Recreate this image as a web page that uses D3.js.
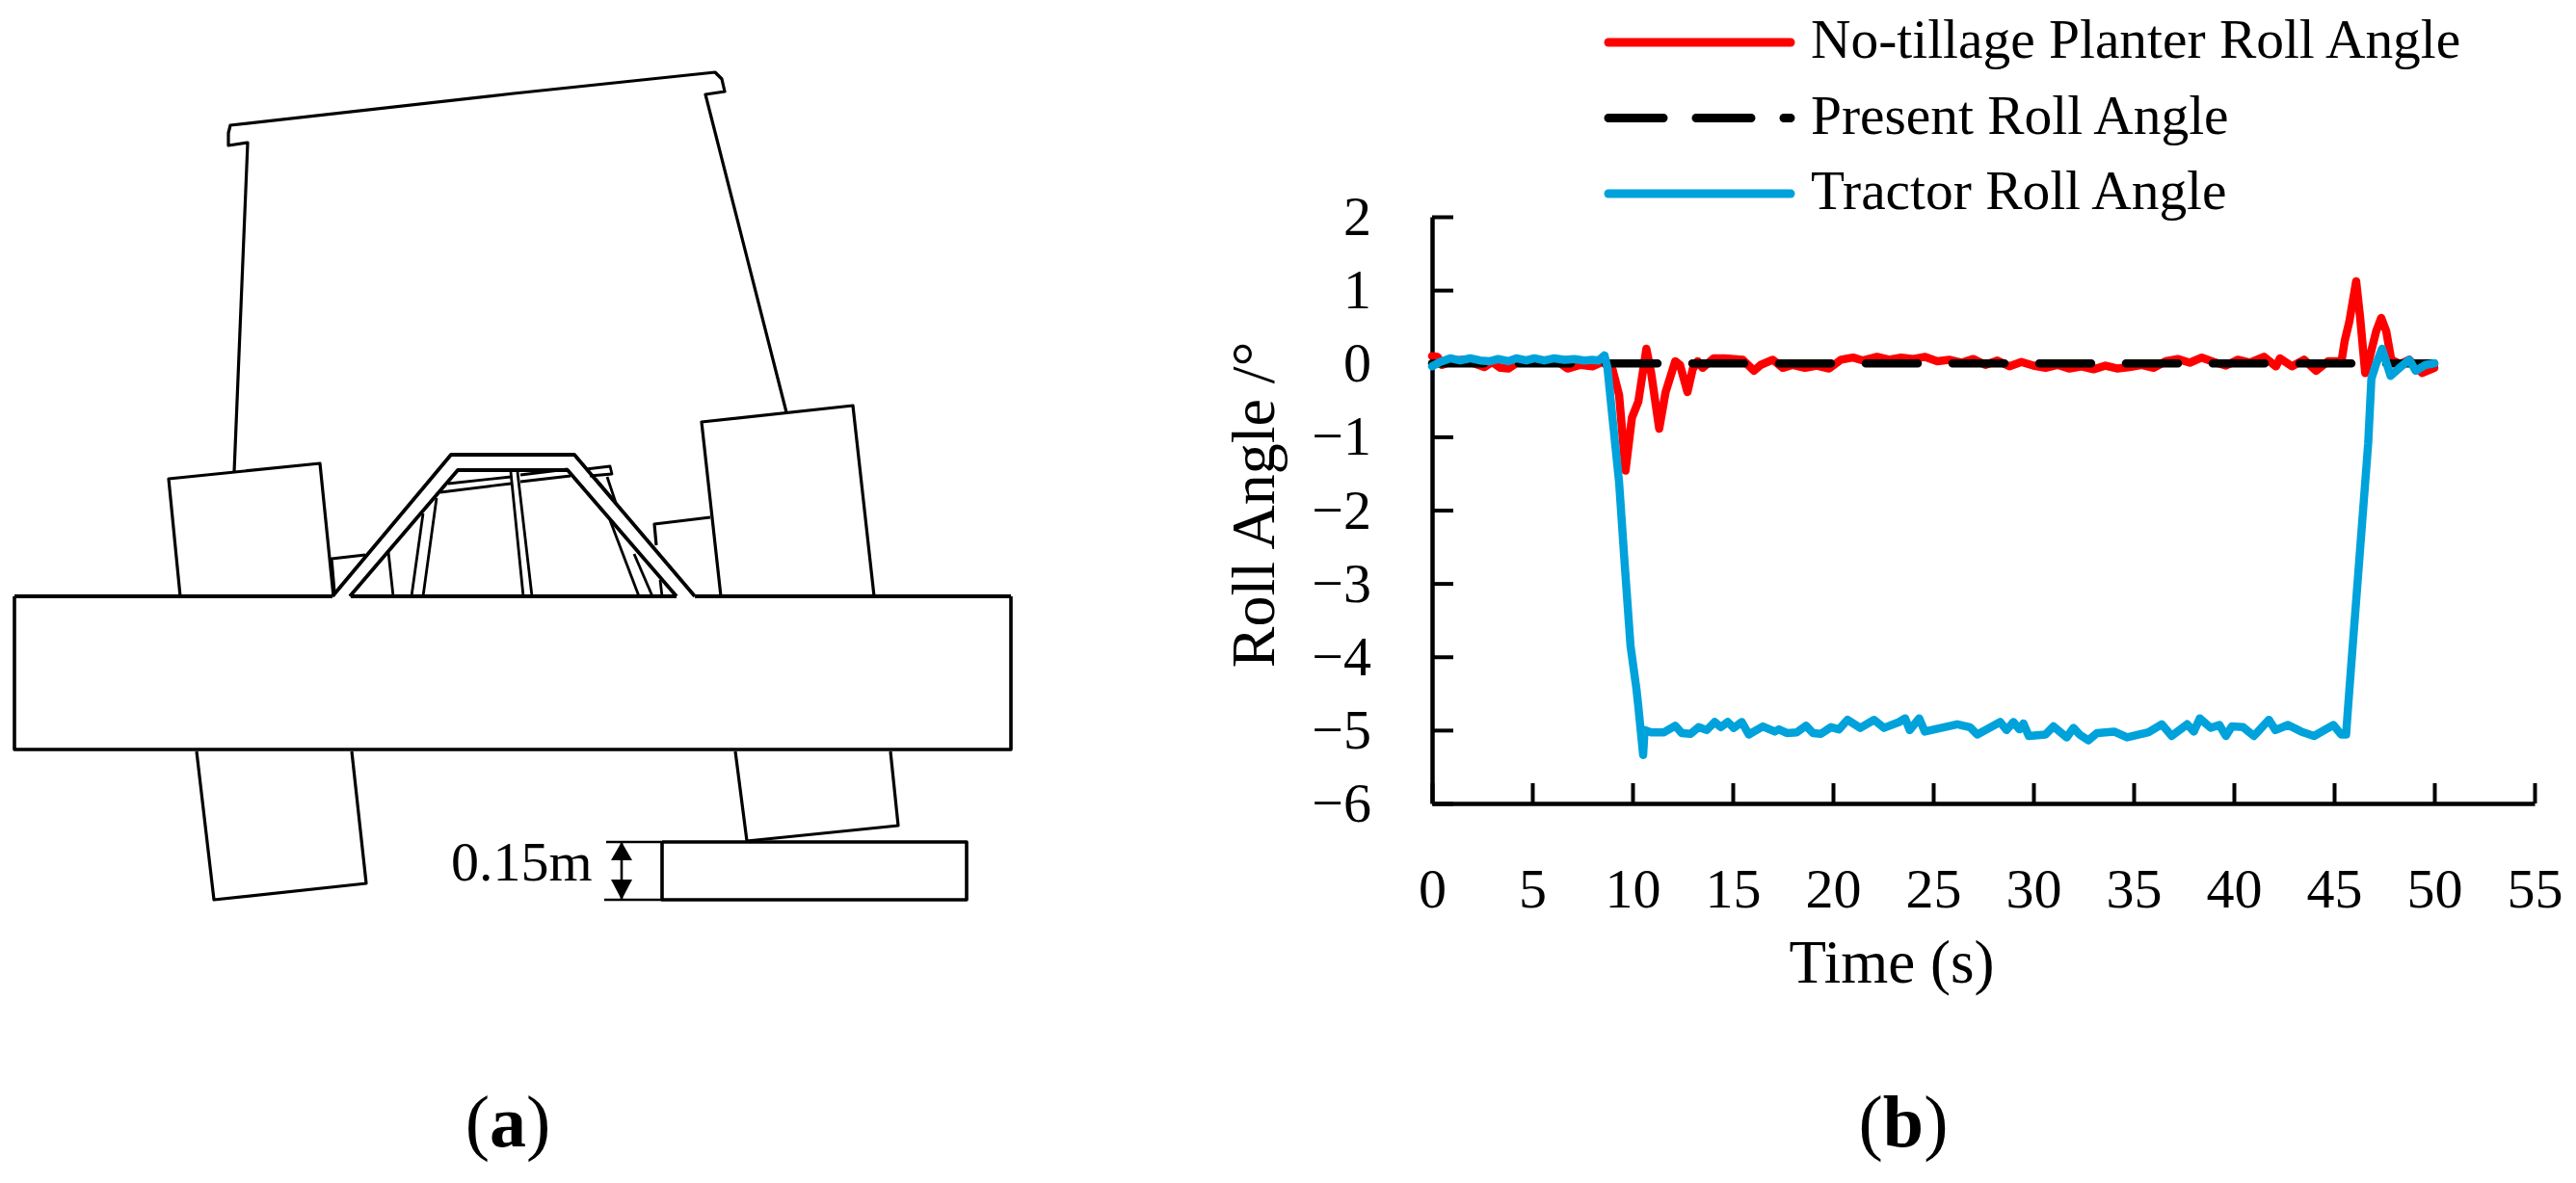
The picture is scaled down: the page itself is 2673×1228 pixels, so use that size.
<!DOCTYPE html>
<html>
<head>
<meta charset="utf-8">
<script src="https://cdn.jsdelivr.net/npm/d3@7"></script>
<style>
  html, body { margin: 0; padding: 0; background: #fff; overflow: hidden; }
  text { font-family: "Liberation Serif", serif; fill: #000; }
</style>
</head>
<body>
<div id="canvas" style="width:2673px;height:1228px"></div>
<script>
// chart (b) data
var xTicks = [0,5,10,15,20,25,30,35,40,45,50,55];
var yTicks = [2,1,0,-1,-2,-3,-4,-5,-6];

var presentT = [0,50];
var presentV = [0,0];

var planterT = [0,.27,.5,1,1.5,2,2.6,3,3.4,3.8,4.3,5,5.6,6.2,6.76,7.4,8,8.5,9,9.33,9.65,9.97,10.29,10.69,10.93,11.33,11.65,12.13,12.37,12.74,13,13.25,13.5,14.05,14.6,15.5,16.06,16.4,17,17.5,18,18.6,19.2,19.8,20.4,21,21.5,22.2,22.8,23.4,24,24.6,25.2,25.8,26.4,27,27.6,28.2,28.8,29.4,30,30.6,31.2,31.8,32.4,33,33.6,34.2,34.8,35.4,36,36.6,37.2,37.8,38.4,39,39.6,40.2,40.8,41.5,42.1,42.3,42.9,43.5,44.1,44.7,45.37,45.53,45.76,46.1,46.3,46.55,46.7,47.1,47.35,47.6,47.85,48.3,48.75,49.4,50];
var planterV = [.1,.09,-.02,.03,.05,.01,-.05,.02,-.06,-.07,.02,.05,.01,.04,-.07,-.02,-.04,.02,-.08,-.43,-1.46,-.74,-.52,.2,-.13,-.89,-.39,.03,-.02,-.39,-.08,.03,-.06,.07,.07,.05,-.1,-.02,.05,-.06,-.02,-.06,-.03,-.07,.05,.08,.04,.09,.05,.08,.06,.09,.03,.05,.01,.06,-.02,.04,-.04,.02,-.03,-.06,-.02,-.07,-.04,-.08,-.03,-.07,-.05,-.02,-.06,.03,.06,.01,.08,.02,-.03,.05,.01,.09,-.04,.07,-.04,.05,-.1,.03,.03,.31,.57,1.12,.62,-.13,0,.44,.62,.44,.05,-.01,.05,-.13,-.06];

var tractorT = [0,.4,.9,1.4,1.9,2.4,2.9,3.3,3.8,4.2,4.7,5.1,5.6,6.1,6.6,7.1,7.6,8,8.3,8.6,8.75,9,9.33,9.6,9.9,10.2,10.29,10.53,10.6,10.93,11.57,12.13,12.45,12.9,13.3,13.7,14.1,14.4,14.75,15.05,15.45,15.8,16.5,17.1,17.3,17.7,18.2,18.65,19,19.4,19.9,20.3,20.72,21.36,22.05,22.54,23.3,23.6,23.83,24.3,24.58,25.55,26.2,26.83,27.2,28.34,28.66,29,29.3,29.5,29.77,30.6,31,31.66,32,32.3,32.74,33.17,34.02,34.67,35.74,36.4,36.9,37.67,38,38.3,38.85,39.28,39.6,39.9,40.46,41,41.75,42.07,42.7,43.36,44,44.97,45.35,45.6,45.65,45.83,46.25,46.7,46.86,47.08,47.39,47.82,48.27,48.75,49.07,49.55,50];
var tractorV = [-.04,.02,.07,.04,.07,.04,.03,.06,.03,.07,.04,.07,.04,.07,.05,.06,.04,.05,.04,.11,-.06,-.74,-1.62,-2.7,-3.85,-4.45,-4.68,-5.34,-5,-5.03,-5.03,-4.94,-5.04,-5.05,-4.96,-5,-4.89,-4.96,-4.89,-4.97,-4.89,-5.06,-4.95,-5.02,-4.99,-5.04,-5.03,-4.94,-5.04,-5.05,-4.96,-4.99,-4.86,-4.97,-4.86,-4.97,-4.89,-4.84,-5,-4.84,-5.02,-4.96,-4.92,-4.96,-5.06,-4.89,-5,-4.89,-4.99,-4.91,-5.08,-5.06,-4.95,-5.1,-4.97,-5.06,-5.14,-5.04,-5.02,-5.1,-5.03,-4.92,-5.08,-4.92,-5.02,-4.84,-4.97,-4.93,-5.08,-4.95,-4.96,-5.08,-4.86,-5,-4.93,-5.02,-5.08,-4.93,-5.06,-5.06,-4.86,-4.2,-2.7,-1.09,-.21,-.02,.2,-.17,-.06,.05,-.1,-.02,0];

var legendLabels = ['No-tillage Planter Roll Angle','Present Roll Angle','Tractor Roll Angle'];
var legendColors = ['#ff0000','#000000','#00a2db'];

// diagram (a), traced outlines in page pixels
var cabOutline = [[243,490],[257,148],[237,151],[237,138],[239,130],[533,97],[742,75],[749,82],[752,95],[732,98],[816,428]];
var wheelOutlines = [
  [[187,619],[175,497],[332,481],[346,619]],
  [[748,619],[728,438],[885,421],[907,619]],
  [[204,780],[222,934],[380,917],[365,780]],
  [[763,780],[775,873],[932,857],[924,780]],
  [[347,615],[344,580],[379,576]],
  [[681,566],[679,544],[737,537]]
];
var bodyTop = [[[15,619],[345,619]],[[364,619],[702,619]],[[721,619],[1049,619]]];
var bodyRest = [[15,619],[15,778],[1049,778],[1049,619]];
var frameOuter = [[345,619],[468,472],[596,472],[721,619]];
var frameInner = [[363,619],[475,488],[589,488],[702,619]];
var frameBits = [
  [[465,502],[530,495]],[[540,493],[589,487]],[[457,511],[530,502]],[[540,500],[592,494]],
  [[608,487],[633,484],[635,492],[612,494]],
  [[530,490],[543,619]],[[537,490],[552,619]],
  [[403,573],[408,619]],[[439,533],[427,619]],[[453,517],[439,619]],
  [[633,540],[663,619]],[[658,575],[677,619]],[[685,602],[687,619]],
  [[630,495],[639,522]],[[618,497],[635,517]]
];
var blockRect = [[687,874],[1003,874],[1003,934],[687,934],[687,874]];
var dimLines = [[[629,874],[687,874]],[[627,934],[687,934]],[[645,874],[645,934]]];
var dimArrows = [[[645,874],[634,893],[656,893]],[[645,934],[634,913],[656,913]]];

var svg = d3.select('#canvas').append('svg').attr('width',2673).attr('height',1228);
var line = d3.line();

var a = svg.append('g').attr('fill','none').attr('stroke','#000').attr('stroke-linejoin','round');
function drawPaths(list, width){
  a.append('g').selectAll('path').data(list).enter().append('path')
    .attr('d', line).attr('stroke-width', width);
}
drawPaths([cabOutline], 3.2);
drawPaths(wheelOutlines, 3.2);
drawPaths(bodyTop, 4);
drawPaths([bodyRest], 3.6);
drawPaths([frameOuter, frameInner], 3.8);
drawPaths(frameBits, 2.8);
drawPaths([blockRect], 3.6);
drawPaths(dimLines, 2.6);
a.append('g').selectAll('path').data(dimArrows).enter().append('path')
  .attr('d', function(d){ return line(d)+'Z'; }).attr('fill','#000').attr('stroke','none');

svg.append('text').attr('x',468).attr('y',914).attr('font-size',58).text('0.15m');

// chart (b)
var x = d3.scaleLinear().domain([0,55]).range([1486,2630]);
var y = d3.scaleLinear().domain([-6,2]).range([834,225]);

function styleAxis(g){
  g.selectAll('.domain').attr('stroke-width',4.5).attr('stroke','#000');
  g.selectAll('.tick line').attr('stroke-width',4).attr('stroke','#000');
  g.selectAll('.tick text').attr('font-family','"Liberation Serif", serif').attr('font-size',58).attr('fill','#000');
}
svg.append('g').attr('transform','translate(0,834)')
  .call(d3.axisBottom(x).tickValues(xTicks).tickSize(-21).tickSizeOuter(0).tickPadding(67))
  .call(styleAxis);
svg.append('g').attr('transform','translate(1486,0)')
  .call(d3.axisLeft(y).tickValues(yTicks).tickSize(-22).tickSizeOuter(0).tickPadding(63)
    .tickFormat(function(d){ return String(d).replace('-','\u2212'); }))
  .call(styleAxis);

var seriesLine = d3.line().x(function(d){ return x(d[0]); }).y(function(d){ return y(d[1]); });
function drawSeries(ts, vs, color, dash){
  svg.append('path')
    .attr('d', seriesLine(d3.zip(ts, vs)))
    .attr('fill','none')
    .attr('stroke', color)
    .attr('stroke-width',8.5)
    .attr('stroke-linejoin','round')
    .attr('stroke-linecap','round')
    .attr('stroke-dasharray', dash);
}
drawSeries(planterT, planterV, legendColors[0], null);
drawSeries(presentT, presentV, legendColors[1], '54,36');
drawSeries(tractorT, tractorV, legendColors[2], null);

var legendY = d3.scalePoint().domain(legendLabels).range([44,201]);
var legend = svg.append('g').selectAll('g').data(legendLabels).enter().append('g')
  .attr('transform', function(d){ return 'translate(1669,'+legendY(d)+')'; });
legend.append('line')
  .attr('x1',0).attr('x2',189)
  .attr('stroke', function(d,i){ return legendColors[i]; })
  .attr('stroke-width',9)
  .attr('stroke-linecap','round')
  .attr('stroke-dasharray', function(d,i){ return i==1 ? '57,34' : null; });
legend.append('text')
  .attr('x',210).attr('y',16).attr('font-size',57.4)
  .text(function(d){ return d; });

svg.append('text').attr('x',1963).attr('y',1020).attr('text-anchor','middle').attr('font-size',63).text('Time (s)');
svg.append('text').attr('transform','translate(1322,524) rotate(-90)').attr('text-anchor','middle').attr('font-size',64).text('Roll Angle /°');

// panel letters
function panelLabel(cx, letter){
  var t = svg.append('text').attr('x',cx).attr('y',1190).attr('text-anchor','middle').attr('font-size',76);
  t.append('tspan').text('(');
  t.append('tspan').attr('font-weight','bold').text(letter);
  t.append('tspan').text(')');
}
panelLabel(527,'a');
panelLabel(1975,'b');
</script>
</body>
</html>
